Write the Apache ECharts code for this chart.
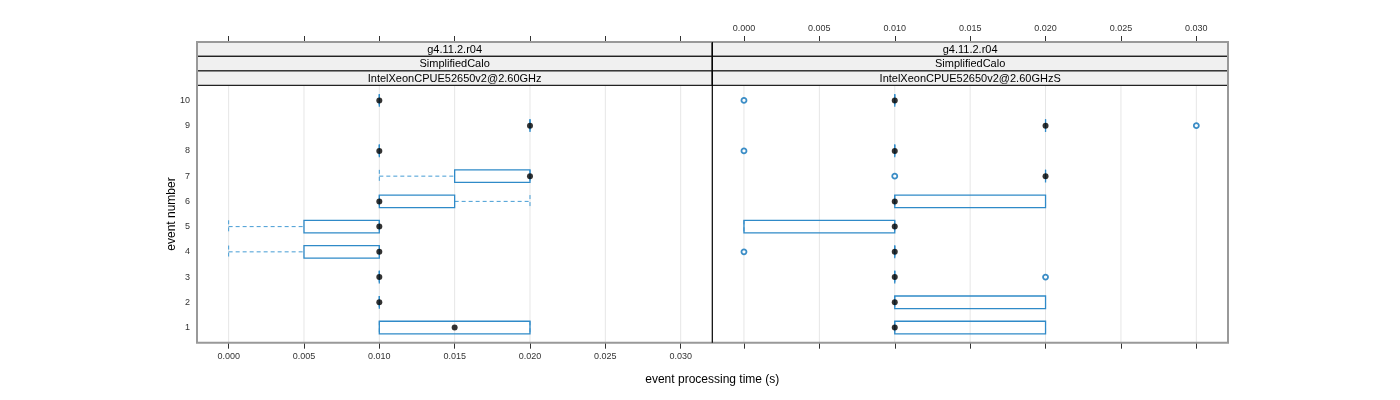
<!DOCTYPE html>
<html>
<head>
<meta charset="utf-8">
<script src="https://cdn.jsdelivr.net/npm/echarts@6/dist/echarts.min.js"></script>
<style>html,body{margin:0;padding:0;background:#fff}#c{width:1400px;height:400px}</style>
</head>
<body>
<div id="c"></div>
<script>
// ---- data ----
const events = [1, 2, 3, 4, 5, 6, 7, 8, 9, 10];
const xTicks = [0.000, 0.005, 0.010, 0.015, 0.020, 0.025, 0.030];
const yTicks = [1, 2, 3, 4, 5, 6, 7, 8, 9, 10];
const stripVersion = ['g4.11.2.r04', 'g4.11.2.r04'];
const stripModel = ['SimplifiedCalo', 'SimplifiedCalo'];
const stripCpu = ['IntelXeonCPUE52650v2@2.60GHz', 'IntelXeonCPUE52650v2@2.60GHzS'];
const xTitle = 'event processing time (s)';
const yTitle = 'event number';

// panel 1: IntelXeonCPUE52650v2@2.60GHz
const p1Lower  = [0.010, 0.010, 0.010, 0.000, 0.000, 0.010, 0.010, 0.010, 0.020, 0.010];
const p1Q1     = [0.010, 0.010, 0.010, 0.005, 0.005, 0.010, 0.015, 0.010, 0.020, 0.010];
const p1Median = [0.015, 0.010, 0.010, 0.010, 0.010, 0.010, 0.020, 0.010, 0.020, 0.010];
const p1Q3     = [0.020, 0.010, 0.010, 0.010, 0.010, 0.015, 0.020, 0.010, 0.020, 0.010];
const p1Upper  = [0.020, 0.010, 0.010, 0.010, 0.010, 0.020, 0.020, 0.010, 0.020, 0.010];
const p1OutEvent = [];
const p1OutValue = [];

// panel 2: IntelXeonCPUE52650v2@2.60GHzS
const p2Lower  = [0.010, 0.010, 0.010, 0.010, 0.000, 0.010, 0.020, 0.010, 0.020, 0.010];
const p2Q1     = [0.010, 0.010, 0.010, 0.010, 0.000, 0.010, 0.020, 0.010, 0.020, 0.010];
const p2Median = [0.010, 0.010, 0.010, 0.010, 0.010, 0.010, 0.020, 0.010, 0.020, 0.010];
const p2Q3     = [0.020, 0.020, 0.010, 0.010, 0.010, 0.020, 0.020, 0.010, 0.020, 0.010];
const p2Upper  = [0.020, 0.020, 0.010, 0.010, 0.010, 0.020, 0.020, 0.010, 0.020, 0.010];
const p2OutEvent = [3, 4, 7, 8, 9, 10];
const p2OutValue = [0.020, 0.000, 0.010, 0.000, 0.030, 0.000];

// ---- style ----
const FONT = 'Liberation Sans, Arial, Helvetica, sans-serif';
const BOX = '#2f8ac8';
const WHISK = '#459cd4';
const OUT = '#0a70b8';
const X_MIN = -0.0021, X_MAX = 0.0321, Y_MIN = 0.4, Y_MAX = 10.6;
const PL = 197, PM = 712.3, PR = 1228, PT = 85.3, PB = 342.7, ST = 42;
const stripH = (PT - ST) / 3;

function boxData(lo, q1, med, q3, hi) {
  return events.map((e, i) => [e, lo[i], q1[i], med[i], q3[i], hi[i]]);
}

function renderBox(params, api) {
  const y = api.value(0), lo = api.value(1), q1 = api.value(2), q3 = api.value(4), hi = api.value(5);
  const h = api.size([0, 0.5])[1];
  const pLo = api.coord([lo, y]), pQ1 = api.coord([q1, y]), pQ3 = api.coord([q3, y]), pHi = api.coord([hi, y]);
  const dash = { stroke: WHISK, lineWidth: 1, lineDash: [4, 3] };
  const children = [];
  if (lo < q1) children.push({ type: 'line', shape: { x1: pLo[0], y1: pLo[1], x2: pQ1[0], y2: pQ1[1] }, style: dash });
  if (hi > q3) children.push({ type: 'line', shape: { x1: pQ3[0], y1: pQ3[1], x2: pHi[0], y2: pHi[1] }, style: dash });
  children.push({ type: 'line', shape: { x1: pLo[0], y1: pLo[1] - h / 2, x2: pLo[0], y2: pLo[1] + h / 2 }, style: dash });
  children.push({ type: 'line', shape: { x1: pHi[0], y1: pHi[1] - h / 2, x2: pHi[0], y2: pHi[1] + h / 2 }, style: dash });
  children.push({ type: 'rect', shape: { x: pQ1[0], y: pQ1[1] - h / 2, width: pQ3[0] - pQ1[0], height: h },
    style: { fill: 'none', stroke: BOX, lineWidth: 1.3 } });
  return { type: 'group', children: children };
}

function renderGrid(params, api) {
  const t = api.value(0);
  const a = api.coord([t, Y_MIN]), b = api.coord([t, Y_MAX]);
  return { type: 'line', shape: { x1: a[0], y1: a[1], x2: b[0], y2: b[1] }, style: { stroke: '#e6e6e6', lineWidth: 1 } };
}

function xAxisCfg(grid, pos, showLabel) {
  return {
    type: 'value', gridIndex: grid, position: pos, min: X_MIN, max: X_MAX,
    offset: pos === 'top' ? (PT - ST) : 0,
    axisLine: { show: false },
    axisTick: { show: true, length: 6, customValues: xTicks, lineStyle: { color: '#333', width: 1 } },
    axisLabel: { show: showLabel, customValues: xTicks, fontSize: 9, color: '#333', fontFamily: FONT, margin: 9,
      formatter: v => v.toFixed(3) },
    splitLine: { show: false }
  };
}

function yAxisCfg(grid, showLabel) {
  return {
    type: 'value', gridIndex: grid, min: Y_MIN, max: Y_MAX,
    axisLine: { show: false }, axisTick: { show: false }, splitLine: { show: false },
    axisLabel: { show: showLabel, customValues: yTicks, fontSize: 9, color: '#333', fontFamily: FONT, margin: 7 }
  };
}

const graphics = [];
// strips
[[PL, PM], [PM, PR]].forEach((r, k) => {
  const texts = [stripVersion[k], stripModel[k], stripCpu[k]];
  texts.forEach((t, j) => {
    const y0 = ST + j * stripH;
    graphics.push({ type: 'rect', shape: { x: r[0], y: y0, width: r[1] - r[0], height: stripH },
      style: { fill: '#f0f0f0', stroke: '#222', lineWidth: 1.2 }, z: 10 });
    graphics.push({ type: 'text', x: (r[0] + r[1]) / 2, y: y0 + stripH / 2 + 0.5,
      style: { text: t, fill: '#000', font: '11px ' + FONT, textAlign: 'center', textVerticalAlign: 'middle' }, z: 11 });
  });
});
// outer border
graphics.push({ type: 'rect', shape: { x: PL, y: ST, width: PR - PL, height: PB - ST },
  style: { fill: 'none', stroke: '#999', lineWidth: 2 }, z: 12 });
// divider
graphics.push({ type: 'line', shape: { x1: PM, y1: ST, x2: PM, y2: PB }, style: { stroke: '#000', lineWidth: 1.2 }, z: 12 });
// axis titles
graphics.push({ type: 'text', x: PM, y: 380, style: { text: xTitle, fill: '#000', font: '12px ' + FONT, textAlign: 'center', textVerticalAlign: 'middle' } });
graphics.push({ type: 'text', x: 172, y: (PT + PB) / 2, rotation: Math.PI / 2,
  style: { text: yTitle, fill: '#000', font: '12px ' + FONT, textAlign: 'center', textVerticalAlign: 'middle' } });

const series = [];
[[0, boxData(p1Lower, p1Q1, p1Median, p1Q3, p1Upper), p1Median, p1OutEvent, p1OutValue],
 [1, boxData(p2Lower, p2Q1, p2Median, p2Q3, p2Upper), p2Median, p2OutEvent, p2OutValue]].forEach(([g, bd, med, oe, ov]) => {
  series.push({ type: 'custom', xAxisIndex: g * 2, yAxisIndex: g, renderItem: renderGrid, data: xTicks.map(t => [t]), silent: true, z: 1 });
  series.push({ type: 'custom', xAxisIndex: g * 2, yAxisIndex: g, renderItem: renderBox, data: bd, z: 3,
    encode: { x: [1, 2, 3, 4, 5], y: 0 } });
  series.push({ type: 'scatter', xAxisIndex: g * 2, yAxisIndex: g, data: events.map((e, i) => [med[i], e]),
    symbol: 'circle', symbolSize: 6, itemStyle: { color: '#000' }, z: 5 });
  series.push({ type: 'scatter', xAxisIndex: g * 2, yAxisIndex: g, data: oe.map((e, i) => [ov[i], e]),
    symbol: 'circle', symbolSize: 5, itemStyle: { color: '#fff', borderColor: OUT, borderWidth: 1.8 }, z: 4 });
});

const chart = echarts.init(document.getElementById('c'), null, { renderer: 'canvas' });
chart.setOption({
  animation: false,
  backgroundColor: '#fff',
  textStyle: { fontFamily: FONT },
  grid: [
    { left: PL, top: PT, width: PM - PL, height: PB - PT },
    { left: PM, top: PT, width: PR - PM, height: PB - PT }
  ],
  xAxis: [xAxisCfg(0, 'bottom', true), xAxisCfg(0, 'top', false), xAxisCfg(1, 'bottom', false), xAxisCfg(1, 'top', true)],
  yAxis: [yAxisCfg(0, true), yAxisCfg(1, false)],
  graphic: graphics,
  series: series
});
</script>
</body>
</html>
